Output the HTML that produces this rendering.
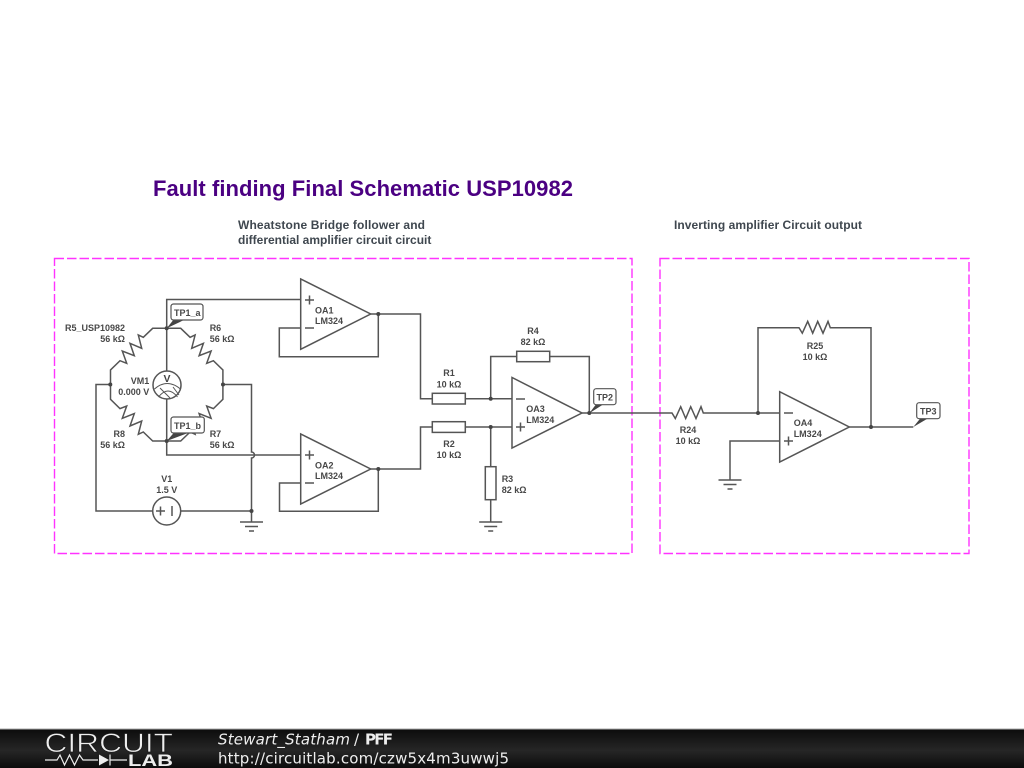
<!DOCTYPE html>
<html>
<head>
<meta charset="utf-8">
<title>Fault finding Final Schematic USP10982</title>
<style>
html,body{margin:0;padding:0;background:#fff;width:1024px;height:768px;overflow:hidden}
svg{display:block}
.w{fill:none;stroke:#555;stroke-width:1.5;stroke-linejoin:miter}
.b{fill:#fff;stroke:#555;stroke-width:1.5}
.d{fill:#444;stroke:none}
.dash{fill:none;stroke:#f0f;stroke-width:1.4;stroke-dasharray:9.5 3;opacity:.8}
text{font-family:"Liberation Sans",sans-serif}
.t{font-size:9px;font-weight:700;fill:#484848}
.m{text-anchor:middle}
.r{text-anchor:end}
.s{font-size:12px;font-weight:700;fill:#3f474f}
.f{font-family:"DejaVu Sans",sans-serif;fill:#eee;font-size:15px}
.soft{filter:blur(.35px)}
</style>
</head>
<body>
<svg width="1024" height="768" viewBox="0 0 1024 768" xmlns="http://www.w3.org/2000/svg">
<defs>
<linearGradient id="g" x1="0" y1="0" x2="0" y2="1">
<stop offset="0" stop-color="#0c0c0c"/><stop offset=".55" stop-color="#262626"/><stop offset="1" stop-color="#0c0c0c"/>
</linearGradient>
<polyline id="arm" class="w" points="110.5,384.5 110.5,370 120,360.7 126.7,363.3 122.3,351 134.3,355.7 130,343.3 141.7,348.3 138.3,335 143.3,337.3 152.7,328.3 166.7,328.3"/>
<g id="gnd" class="w"><path d="M-11.5 0H11.5M-6.5 4.5H6.5M-2.5 9H2.5"/></g>
</defs>

<rect width="1024" height="768" fill="#fff"/>

<g class="soft">
<text x="153" y="196" font-size="22" font-weight="700" fill="#4b0082" textLength="420">Fault finding Final Schematic USP10982</text>
<text class="s" x="238" y="229" textLength="187">Wheatstone Bridge follower and</text>
<text class="s" x="238" y="244">differential amplifier circuit circuit</text>
<text class="s" x="674" y="229" textLength="188">Inverting amplifier Circuit output</text>

<rect class="dash" x="54.5" y="258.5" width="577.5" height="295"/>
<rect class="dash" x="660" y="258.5" width="309" height="295"/>

<!-- bridge -->
<use href="#arm"/>
<use href="#arm" transform="matrix(-1 0 0 1 333.4 0)"/>
<use href="#arm" transform="matrix(1 0 0 -1 0 769.3)"/>
<use href="#arm" transform="matrix(-1 0 0 -1 333.4 769.3)"/>

<path class="w" d="M300.7 299.5H166.7V371M166.7 399V455H300.7"/>
<path class="w" d="M110.3 384.5H96V511H152.5M181 511H251.5M223 384.5H251.5V452a3 3 0 0 1 0 6V522"/>

<circle class="b" cx="167" cy="385" r="14"/>
<path fill="none" stroke="#555" stroke-width="1" d="M154.500 389Q167 378 180.500 389M158.500 397Q168 385 177.500 397M160 388L170 398M173 387L179 395"/>
<text x="167" y="382" text-anchor="middle" font-size="10.5" font-weight="700" fill="#444">V</text>

<circle class="b" cx="166.7" cy="511" r="14"/>
<path class="w" d="M156 511h9M160.5 506.5v9M172 506v10"/>

<use href="#gnd" transform="translate(251.5 522)"/>

<!-- OA1 -->
<path class="b" d="M300.7 279V349.3L370.7 314Z"/>
<path class="w" d="M305 300h9M309.5 295.5v9M305 328h9"/>
<path class="w" d="M370.7 314H420.5V398.7H432.3M378.3 314V356.7H279.3V328H300.7"/>
<!-- OA2 -->
<path class="b" d="M300.7 434V504L370.7 469Z"/>
<path class="w" d="M305 455h9M309.5 450.5v9M305 483h9"/>
<path class="w" d="M370.7 469H420.5V427H432.3M378.3 469V511.3H279.5V483H300.7"/>
<!-- OA3 -->
<path class="b" d="M512 377.5V448L582 413Z"/>
<path class="w" d="M516 399h9M516 427h9M520.5 422.5v9"/>
<rect class="b" x="432.3" y="393.3" width="33" height="10.7"/>
<rect class="b" x="432.3" y="421.7" width="33" height="10.7"/>
<rect class="b" x="516.7" y="351.3" width="33" height="10.4"/>
<rect class="b" x="485.3" y="466.7" width="10.7" height="33"/>
<path class="w" d="M465.3 398.7H512M465.3 427H512M490.7 398.7V356.5H516.7M549.7 356.5H589.3V413M490.7 427V466.7M490.7 499.7V522"/>
<use href="#gnd" transform="translate(490.7 522)"/>
<path class="w" d="M582 413H672L675.3 418.5 680.7 406.7 685.7 418.5 690.7 406.7 696 418.5 701 406.7 703.3 413H779.7"/>
<!-- OA4 -->
<path class="b" d="M779.7 391.7V462L849.3 427Z"/>
<path class="w" d="M784 413h9M784 441h9M788.5 436.5v9"/>
<path class="w" d="M758 413V327.7H799L802.3 333.2 807.7 321.4 812.7 333.2 817.7 321.4 823 333.2 828 321.4 830.3 327.7H871V427M849.3 427H913.3M779.7 441H730V480"/>
<use href="#gnd" transform="translate(730 480)"/>

<!-- junctions -->
<g fill="#444">
<circle cx="166.7" cy="328.3" r="2"/><circle cx="110.3" cy="384.5" r="2"/><circle cx="223" cy="384.5" r="2"/><circle cx="166.7" cy="441" r="2"/>
<circle cx="251.5" cy="511" r="2"/><circle cx="378.3" cy="314" r="2"/><circle cx="378.3" cy="469" r="2"/>
<circle cx="490.7" cy="398.7" r="2"/><circle cx="490.7" cy="427" r="2"/><circle cx="589.3" cy="413" r="2"/>
<circle cx="758" cy="413" r="2"/><circle cx="871" cy="427" r="2"/>
</g>

<!-- test points -->
<polygon class="d" points="166.7,328.3 173.3,320 184,320"/>
<rect x="171" y="304" width="32" height="16" rx="2.5" fill="#fff" stroke="#555" stroke-width="1.2"/>
<text class="t" x="174" y="316">TP1_a</text>
<polygon class="d" points="166.7,441 173.7,433 188,433"/>
<rect x="171" y="417" width="33.3" height="16" rx="2.5" fill="#fff" stroke="#555" stroke-width="1.2"/>
<text class="t" x="174" y="429">TP1_b</text>
<polygon class="d" points="589.3,413.3 595.7,404.7 602.7,404.7"/>
<rect x="593.7" y="388.7" width="22.3" height="16" rx="2.5" fill="#fff" stroke="#555" stroke-width="1.2"/>
<text class="t" x="596.5" y="400.5">TP2</text>
<polygon class="d" points="913.3,427 920,418.7 927.3,418.7"/>
<rect x="916.7" y="402.7" width="23.3" height="16" rx="2.5" fill="#fff" stroke="#555" stroke-width="1.2"/>
<text class="t" x="920" y="414.5">TP3</text>

<!-- labels -->
<text class="t r" x="125" y="331">R5_USP10982</text><text class="t r" x="125" y="342">56 kΩ</text>
<text class="t" x="209.7" y="331">R6</text><text class="t" x="209.7" y="342">56 kΩ</text>
<text class="t r" x="125" y="437">R8</text><text class="t r" x="125" y="448">56 kΩ</text>
<text class="t" x="209.7" y="437">R7</text><text class="t" x="209.7" y="448">56 kΩ</text>
<text class="t r" x="149.3" y="384">VM1</text><text class="t r" x="149.3" y="395">0.000 V</text>
<text class="t m" x="166.7" y="482">V1</text><text class="t m" x="166.7" y="493">1.5 V</text>
<text class="t" x="315" y="313.5">OA1</text><text class="t" x="315" y="324">LM324</text>
<text class="t" x="315" y="468.5">OA2</text><text class="t" x="315" y="479">LM324</text>
<text class="t" x="526.3" y="412">OA3</text><text class="t" x="526.3" y="423">LM324</text>
<text class="t" x="793.7" y="426">OA4</text><text class="t" x="793.7" y="437">LM324</text>
<text class="t m" x="449" y="376">R1</text><text class="t m" x="449" y="387.5">10 kΩ</text>
<text class="t m" x="449" y="447">R2</text><text class="t m" x="449" y="458">10 kΩ</text>
<text class="t" x="501.7" y="482">R3</text><text class="t" x="501.7" y="493">82 kΩ</text>
<text class="t m" x="533" y="334">R4</text><text class="t m" x="533" y="345">82 kΩ</text>
<text class="t m" x="688" y="433">R24</text><text class="t m" x="688" y="444">10 kΩ</text>
<text class="t m" x="815" y="349">R25</text><text class="t m" x="815" y="360">10 kΩ</text>
</g>

<!-- footer -->
<rect x="0" y="729" width="1024" height="39" fill="url(#g)"/>
<rect x="0" y="728.500" width="1024" height="1" fill="#aaa"/>
<text x="44.5" y="752" font-size="26.500" fill="#eee" stroke="#1a1a1a" stroke-width=".7" textLength="128.5" lengthAdjust="spacingAndGlyphs">CIRCUIT</text>
<path d="M45 760H57L60 755 64.500 765 69.500 755 74.500 765 79.500 755 83 760H98M110 760H127M110 754.500V765.500" fill="none" stroke="#eee" stroke-width="1.2"/>
<polygon points="99,754.500 99,765.500 109,760" fill="#eee"/>
<text x="128" y="766" font-size="17" font-weight="700" fill="#eee" textLength="45" lengthAdjust="spacingAndGlyphs">LAB</text>
<text class="f" x="218" y="744.500" font-style="oblique" textLength="132">Stewart_Statham</text>
<text class="f" x="354" y="744.500">/</text>
<text class="f" x="365" y="744.500" font-weight="700" fill="#fff" textLength="28">PFF</text>
<text class="f" x="218" y="763.500" textLength="291">http://circuitlab.com/czw5x4m3uwwj5</text>
</svg>
</body>
</html>
